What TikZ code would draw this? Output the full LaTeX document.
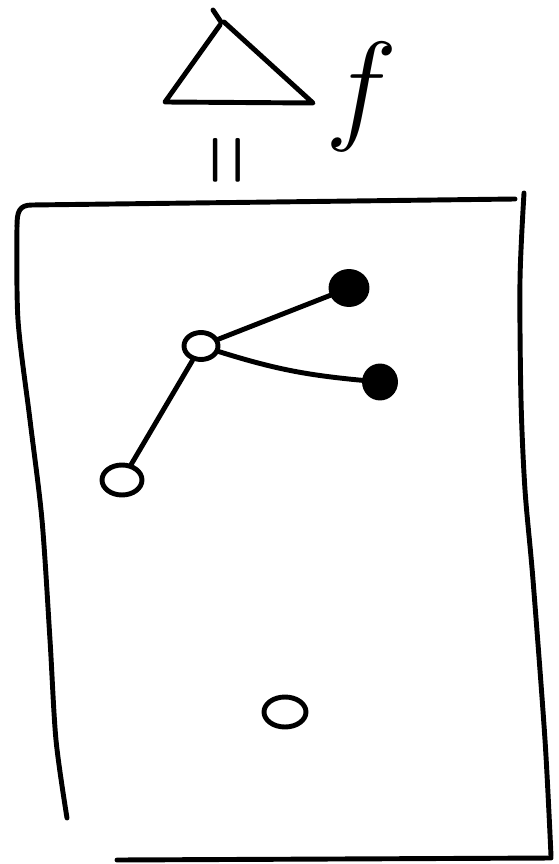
\documentclass[tikz,border=0pt]{standalone}
\usepackage{tikz}
\usetikzlibrary{positioning,shapes.geometric}
\begin{document}
\begin{tikzpicture}[x=0.02cm, y=-0.02cm, line width=2.8pt, line cap=round, line join=round,
  hollow/.style={draw, ellipse, fill=white, inner sep=0pt, minimum width=0.68cm, minimum height=0.54cm},
  dot/.style={hollow, fill=black, minimum width=0.72cm, minimum height=0.66cm}]
  \useasboundingbox (0,0) rectangle (558,864);
  % triangle, with the overshoot at its apex
  \draw (213,10) -- (221,22);
  \draw (220,25) -- (165,102) -- (313,103) -- (224,22);
  \node (fname) at (362,97) {\Huge\scalebox{2.8}{$f$}};
  \node[rotate=90] (equal) at (236,160) {\Huge\scalebox{1.6}[2.9]{$=$}};
  % hand-drawn frame
  \draw (515,199) -- (32,205) .. controls (19,205) and (17,212) .. (17,226);
  \draw plot[smooth] coordinates {(17,226) (18,320) (30,420) (42,520) (50,640) (56,740) (67,818)};
  \draw plot[smooth] coordinates {(524,193) (520,280) (521,400) (525,490) (533,580) (545,740) (551,856)};
  \draw (551,858) -- (117,860);
  % tree
  \node[hollow] (hub) at (201,346) {};
  \node[dot] (leafa) at (349,288) {};
  \node[dot, minimum width=0.62cm, minimum height=0.64cm] (leafb) at (380,382) {};
  \node[hollow, minimum width=0.8cm, minimum height=0.6cm] (root) at (122,480) {};
  \draw (hub) -- (leafa);
  \draw (hub) to[bend right=6] (leafb);
  \draw (hub) -- (root);
  % single vertex
  \node[hollow, minimum width=0.84cm, minimum height=0.6cm] (lone) at (285,712) {};
\end{tikzpicture}
\end{document}
